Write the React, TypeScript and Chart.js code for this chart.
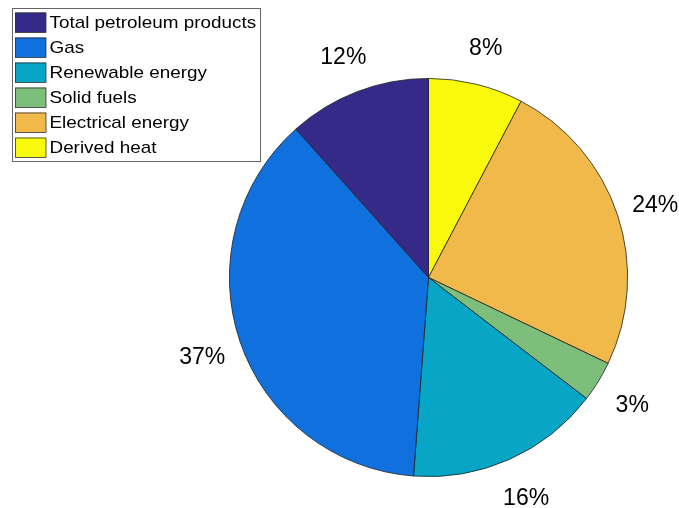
import React, { useEffect, useRef } from "react";
import { Chart, registerables } from "chart.js";

Chart.register(...registerables);

// Data (MATLAB-style pie: slices run counter-clockwise from 12 o'clock)
const categories = [
  "Total petroleum products",
  "Gas",
  "Renewable energy",
  "Solid fuels",
  "Electrical energy",
  "Derived heat",
];
const shares = [11.6, 37.2, 15.8, 3.3, 24.4, 7.7];
const colors = ["#352A87", "#0F70DE", "#07A6C6", "#7DBE7B", "#F1B94A", "#F9F90E"];

const FONT = '"Liberation Sans", Arial, Helvetica, sans-serif';

const total = shares.reduce((a, b) => a + b, 0);
const pctLabels = shares.map((v) => Math.round((v / total) * 100) + "%");

// Chart.js draws clockwise, so feed reversed arrays to obtain counter-clockwise order
const revIdx = shares.map((_, i) => shares.length - 1 - i);

const pctPlugin = {
  id: "pctLabels",
  afterDatasetsDraw(chart: any) {
    const meta = chart.getDatasetMeta(0);
    const ctx = chart.ctx;
    ctx.save();
    ctx.font = `23px ${FONT}`;
    ctx.fillStyle = "#000";
    ctx.textAlign = "center";
    ctx.textBaseline = "middle";
    meta.data.forEach((arc: any, j: number) => {
      const p = arc.getProps(["x", "y", "startAngle", "endAngle", "outerRadius"], true);
      const mid = (p.startAngle + p.endAngle) / 2;
      const r = p.outerRadius * 1.2;
      ctx.fillText(pctLabels[revIdx[j]], p.x + r * Math.cos(mid), p.y + r * Math.sin(mid) + 3);
    });
    ctx.restore();
  },
};

const legendPlugin = {
  id: "boxLegend",
  afterDraw(chart: any) {
    const ctx = chart.ctx;
    ctx.save();
    const bx = 12, by = 8, bw = 249, bh = 154;
    ctx.fillStyle = "#fff";
    ctx.fillRect(bx, by, bw, bh);
    ctx.strokeStyle = "#666";
    ctx.lineWidth = 1;
    ctx.strokeRect(bx + 0.5, by + 0.5, bw - 1, bh - 1);
    categories.forEach((name, i) => {
      const sy = 12.5 + i * 25;
      ctx.fillStyle = colors[i];
      ctx.fillRect(15, sy, 31, 20);
      ctx.strokeStyle = "#333";
      ctx.lineWidth = 0.8;
      ctx.strokeRect(15.5, sy + 0.5, 30.5, 19.5);
      ctx.save();
      ctx.font = `17px ${FONT}`;
      ctx.textAlign = "left";
      ctx.textBaseline = "middle";
      ctx.fillStyle = "#000";
      ctx.translate(49.5, sy + 10.5);
      ctx.scale(1.11, 1);
      ctx.fillText(name, 0, 0);
      ctx.restore();
    });
    ctx.restore();
  },
};

export default function App() {
  const ref = useRef<HTMLCanvasElement | null>(null);
  useEffect(() => {
    if (!ref.current) return;
    const chart = new Chart(ref.current, {
      type: "pie",
      data: {
        labels: revIdx.map((i) => categories[i]),
        datasets: [
          {
            data: revIdx.map((i) => shares[i]),
            backgroundColor: revIdx.map((i) => colors[i]),
            borderColor: "#222",
            borderWidth: 0.8,
            hoverOffset: 0,
          },
        ],
      },
      options: {
        animation: false,
        responsive: true,
        maintainAspectRatio: false,
        layout: { padding: { left: 229, top: 78, right: 51, bottom: 31 } },
        plugins: {
          legend: { display: false },
          tooltip: { enabled: false },
        },
      },
      plugins: [pctPlugin, legendPlugin],
    });
    return () => chart.destroy();
  }, []);
  return (
    <div style={{ position: "fixed", left: 0, top: 0, width: 679, height: 508, background: "#fff" }}>
      <canvas ref={ref} />
    </div>
  );
}
